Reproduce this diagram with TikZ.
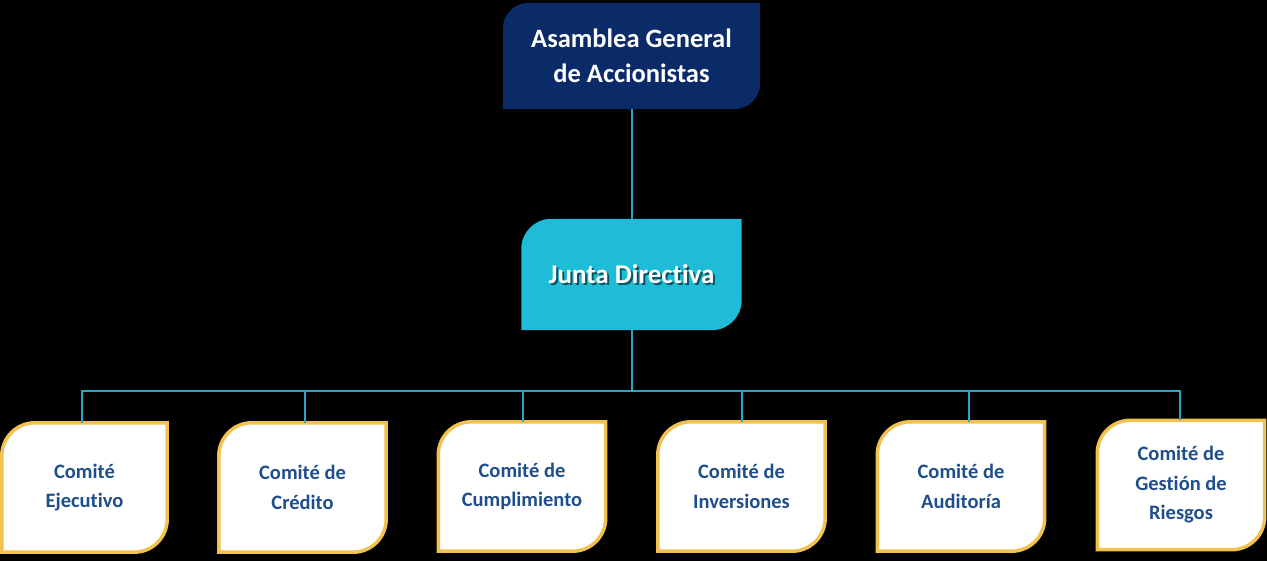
\documentclass[tikz,border=0pt]{standalone}
\usepackage{fontspec}
\setmainfont{Carlito}[Ligatures=NoCommon]
\pgfdeclarelayer{background}
\pgfdeclarelayer{bottom}
\pgfsetlayers{bottom,background,main}
\definecolor{navy}{HTML}{0B2A68}
\definecolor{cyanbox}{HTML}{1FBCDA}
\definecolor{wire}{HTML}{2BA6C8}
\definecolor{gold}{HTML}{F2C14E}
\definecolor{txtblue}{HTML}{1F4E8C}
\tikzset{
  x=1pt, y=-1pt,
  topbox/.style={text=white, font=\bfseries\fontsize{26.5}{35}\selectfont, align=center,
    minimum width=257pt, minimum height=106pt, inner sep=0pt},
  midbox/.style={text=white, font=\bfseries\fontsize{27}{32}\selectfont, align=center,
    minimum width=220pt, minimum height=111pt, inner sep=0pt},
  midshadow/.style={text=black!55!cyanbox, font=\bfseries\fontsize{27}{32}\selectfont, align=center, inner sep=0pt},
  combox/.style={text=txtblue, font=\bfseries\fontsize{20.5}{29.5}\selectfont, align=center,
    minimum width=167pt, minimum height=129pt, inner sep=0pt},
  wireline/.style={draw=wire, line width=2pt},
}
% leaf shape: rounded top-left and bottom-right corners
\newcommand{\leafshape}[3]{%
  \begin{pgfonlayer}{background}
  \path[#3] ([yshift=-#2pt]#1.north west) arc[start angle=180,end angle=90,radius=#2pt]
    -- (#1.north east) -- ([yshift=#2pt]#1.south east)
    arc[start angle=0,end angle=-90,radius=#2pt] -- (#1.south west) -- cycle;
  \end{pgfonlayer}}
\begin{document}
\begin{tikzpicture}
\begin{pgfonlayer}{bottom}
\fill[black] (0,0) rectangle (1267,561);
\end{pgfonlayer}
\useasboundingbox (0,0) rectangle (1267,561);

\node[topbox] (asamblea) at (631.5,56) {Asamblea General\\de Accionistas};
\leafshape{asamblea}{26}{fill=navy}

\begin{pgfonlayer}{background}
\node[midshadow] (juntashadow) at (633.5,276.5) {Junta Directiva};
\end{pgfonlayer}
\node[midbox] (junta) at (631.5,274.5) {Junta Directiva};
\begin{pgfonlayer}{bottom}
\path[fill=cyanbox] ([yshift=-30pt]junta.north west) arc[start angle=180,end angle=90,radius=30pt]
    -- (junta.north east) -- ([yshift=30pt]junta.south east)
    arc[start angle=0,end angle=-90,radius=30pt] -- (junta.south west) -- cycle;
\end{pgfonlayer}

\node[combox, minimum width=165pt] (c1) at (84.5,487.5) {Comité\\Ejecutivo};
\node[combox] (c2) at (302.5,487.5) {Comité de\\Crédito};
\node[combox] (c3) at (522,486.5) {Comité de\\Cumplimiento};
\node[combox] (c4) at (741.5,486.5) {Comité de\\Inversiones};
\node[combox] (c5) at (961,486.5) {Comité de\\Auditoría};
\node[combox] (c6) at (1181,485) {Comité de\\Gestión de\\Riesgos};
\foreach \n in {c1,c2,c3,c4,c5,c6}{\leafshape{\n}{33}{fill=white, draw=gold, line width=3.5pt}}

\begin{pgfonlayer}{background}
\draw[wireline] (asamblea.south) -- (junta.north);
\draw[wireline] (junta.south) -- ++(0,61) coordinate (bus);
\draw[wireline] ([xshift=-2.5pt]c1.north) |- (bus);
\draw[wireline] ([xshift=2.5pt]c2.north) |- (bus);
\draw[wireline] ([xshift=1pt]c3.north) |- (bus);
\draw[wireline] ([xshift=0.5pt]c4.north) |- (bus);
\draw[wireline] ([xshift=8pt]c5.north) |- (bus);
\draw[wireline] ([xshift=-1pt]c6.north) |- (bus);
\end{pgfonlayer}
\end{tikzpicture}
\end{document}
